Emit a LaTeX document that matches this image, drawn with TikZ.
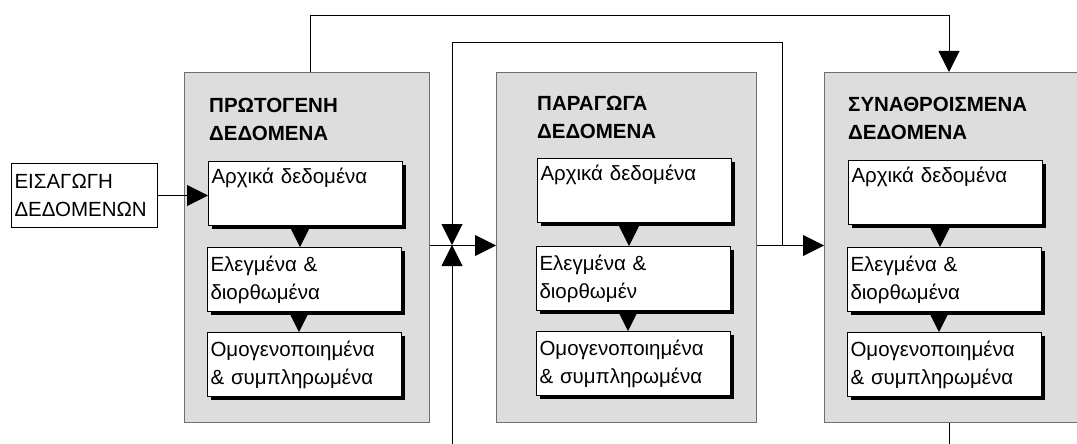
\documentclass[tikz,border=0pt]{standalone}
\usepackage{fontspec}
\setmainfont{Liberation Sans}
\usetikzlibrary{arrows.meta,shadows,calc}
\definecolor{panelgray}{RGB}{221,221,221}
\definecolor{paneledge}{RGB}{110,110,110}
\newcommand{\txtfont}{\fontsize{20.5}{28}\selectfont}
\newcommand{\ttlfont}{\fontsize{20.5}{28}\selectfont\bfseries}
\tikzset{
  panel/.style={draw=paneledge, fill=panelgray, line width=1pt, anchor=north west, inner sep=0pt},
  ttl/.style={anchor=north west, inner sep=0pt, align=left, font=\ttlfont},
  inbox/.style={draw=black, fill=white, line width=1pt, anchor=north west, align=left,
    text width=188pt, inner xsep=3pt, inner ysep=0pt, minimum height=64pt, font=\txtfont,
    drop shadow={shadow xshift=3pt, shadow yshift=-3pt, fill=black, opacity=1}},
  inputbox/.style={draw=black, fill=white, line width=1pt, anchor=north west, align=left,
    text width=140pt, inner xsep=3pt, inner ysep=0pt, minimum height=64pt, font=\txtfont},
  tri/.style={line width=1pt, -{Triangle[length=21pt,width=21pt]}},
  conn/.style={line width=1pt}
}
\begin{document}
\begin{tikzpicture}[x=1pt,y=-1pt]
\useasboundingbox (0,0) rectangle (1077,444);
% panels
\node[panel, minimum width=245pt, minimum height=350pt] (P1) at (184,72) {};
\node[panel, minimum width=260pt, minimum height=350pt] (P2) at (496,72) {};
\node[panel, minimum width=254pt, minimum height=350pt] (P3) at (824,72) {};
% titles
\node[ttl] (T1) at (209,98) {ΠΡΩΤΟΓΕΝΗ\\ΔΕΔΟΜΕΝΑ};
\node[ttl] (T2) at (537,96) {ΠΑΡΑΓΩΓΑ\\ΔΕΔΟΜΕΝΑ};
\node[ttl] (T3) at (848,97) {ΣΥΝΑΘΡΟΙΣΜΕΝΑ\\ΔΕΔΟΜΕΝΑ};
% inner boxes
\node[inbox] (a1) at (208,161) {Αρχικά δεδομένα\\\strut};
\node[inbox] (b1) at (207,247) {Ελεγμένα \&\\διορθωμένα};
\node[inbox] (c1) at (207,332) {Ομογενοποιημένα\\\& συμπληρωμένα};
\node[inbox] (a2) at (537,158) {Αρχικά δεδομένα\\\strut};
\node[inbox] (b2) at (536,246) {Ελεγμένα \&\\διορθωμέν};
\node[inbox] (c2) at (536,331) {Ομογενοποιημένα\\\& συμπληρωμένα};
\node[inbox] (a3) at (848,160) {Αρχικά δεδομένα\\\strut};
\node[inbox] (b3) at (847,247) {Ελεγμένα \&\\διορθωμένα};
\node[inbox] (c3) at (847,332) {Ομογενοποιημένα\\\& συμπληρωμένα};
% input
\node[inputbox] (in) at (11,163) {ΕΙΣΑΓΩΓΗ\\ΔΕΔΟΜΕΝΩΝ};
% inner arrows
\foreach \p in {1,2,3}{
  \draw[tri] ([xshift=-5.5pt]a\p.south) -- ([xshift=-5.5pt]a\p.south |- b\p.north);
  \draw[tri] ([xshift=-5.5pt]b\p.south) -- ([xshift=-5.5pt]b\p.south |- c\p.north);
}
% input arrow
\draw[tri] (in.east) -- (in.east -| a1.west);
% main flow
\draw[tri] ([yshift=2pt]P1.east) -- ([yshift=2pt]P1.east -| P2.west);
\draw[tri] ([yshift=2pt]P2.east) -- ([yshift=2pt]P2.east -| P3.west);
% feedback lines
\coordinate (j) at (452,245);
\coordinate (k2) at (782,245);
\coordinate (m2) at (452,43);
\coordinate (bot) at (452,444);
\draw[tri] (k2) |- (m2) -- (j);
\draw[tri] (bot) -- (j);
\coordinate (u2) at (949,16);
\draw[tri] ([xshift=3.5pt]P1.north) |- (u2) -- (u2 |- P3.north);
\coordinate (b3e) at (949,444);
\draw[conn] (b3e) -- (b3e |- P3.south);
\end{tikzpicture}
\end{document}
